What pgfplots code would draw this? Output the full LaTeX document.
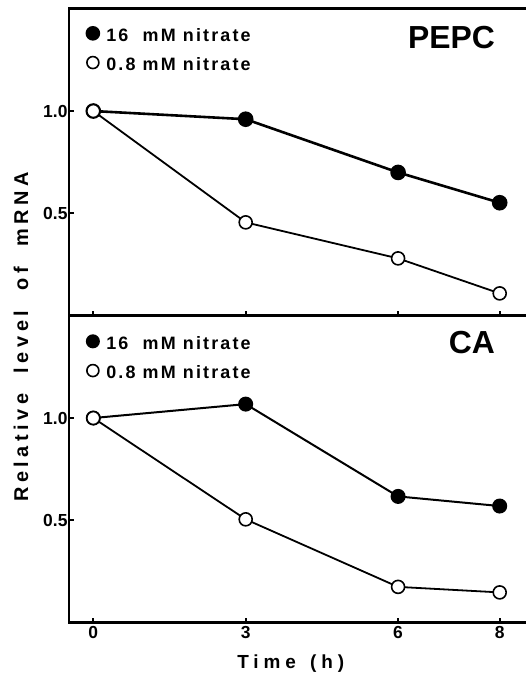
\documentclass[border=0pt]{standalone}
\usepackage{fontspec}
\setmainfont{Liberation Sans}
\usepackage{pgfplots}
\pgfplotsset{compat=1.18}
\newfontfamily\legfont{Liberation Sans Bold}[LetterSpace=12]
\newfontfamily\spaced{Liberation Sans Bold}[LetterSpace=26]
\newfontfamily\wide{Liberation Sans Bold}[LetterSpace=23]
\newfontfamily\bfnt{Liberation Sans Bold}
\begin{document}
\begin{tikzpicture}
\pgfplotsset{
  panel/.style={
    scale only axis, width=460bp, height=307bp,
    xmin=-0.478, xmax=8.577, ymin=0, ymax=1.5,
    axis line style={line width=2.6bp},
    xtick={0,3,6,8}, ytick={0.5,1.0},
    yticklabels={0.5,1.0},
    tick align=inside, xtick pos=bottom, ytick pos=left,
    major tick length=5bp,
    every tick/.style={black, line width=2bp},
    /pgf/number format/assume math mode=true,
    tick label style={font=\bfnt\fontsize{17.5}{17.5}\selectfont},
    yticklabel style={xshift=2bp},
    clip=false,
    legend cell align=left,
    legend image code/.code={\draw[##1, mark size=6bp] plot[only marks] coordinates {(0bp,2.5bp)};},
    legend style={draw=none, fill=none, inner sep=0pt, anchor=north west,
      font=\legfont\fontsize{18}{18}\selectfont,
      row sep=13.5bp, /tikz/column sep=7.5bp, nodes={inner sep=0pt}},
  },
  full/.style={black, mark=*, mark size=6.5bp, mark options={fill=black}},
  open/.style={black, mark=*, mark size=6.5bp, mark options={fill=white, line width=1.6bp}},
}
% bottom panel (CA)
\begin{axis}[panel, at={(0bp,0bp)}, anchor=south west,
  xticklabels={0,3,6,8},
  legend style={at={(axis cs:-0.13,1.405)}},
  xlabel={\spaced\fontsize{19}{19}\selectfont Time\hspace{4bp} (h)},
  xlabel style={at={(rel axis cs:0.482,0)}, anchor=center, yshift=-41bp},
]
\addplot[full, line width=2bp] coordinates {(0,1.0) (3,1.068) (6,0.617) (8,0.570)};
\addlegendentry{16\ \ mM nitrate}
\addplot[open, line width=1.8bp] coordinates {(0,1.0) (3,0.505) (6,0.175) (8,0.148)};
\addlegendentry{0.8 mM nitrate}
\node[anchor=east, inner sep=0pt, font=\bfnt\fontsize{32}{32}\selectfont] at (axis cs:7.91,1.367) {CA};
\end{axis}
% top panel (PEPC)
\begin{axis}[panel, at={(0bp,307bp)}, anchor=south west,
  xticklabels={},
  legend style={at={(axis cs:-0.13,1.41)}},
]
\addplot[full, line width=2.6bp] coordinates {(0,1.0) (3,0.96) (6,0.70) (8,0.552)};
\addlegendentry{16\ \ mM nitrate}
\addplot[open, line width=1.8bp] coordinates {(0,1.0) (3,0.456) (6,0.280) (8,0.109)};
\addlegendentry{0.8 mM nitrate}
\node[anchor=east, inner sep=0pt, font=\bfnt\fontsize{32}{32}\selectfont] at (axis cs:7.91,1.359) {PEPC};
\end{axis}
\node[rotate=90, font=\wide\fontsize{20}{20}\selectfont] at (-48bp,285.7bp) {Relative\ \ level\ \ of\ \ mRNA};
\pgfresetboundingbox
\path[use as bounding box] (-69bp,-54.3bp) rectangle (457bp,622.7bp);
\end{tikzpicture}
\end{document}
